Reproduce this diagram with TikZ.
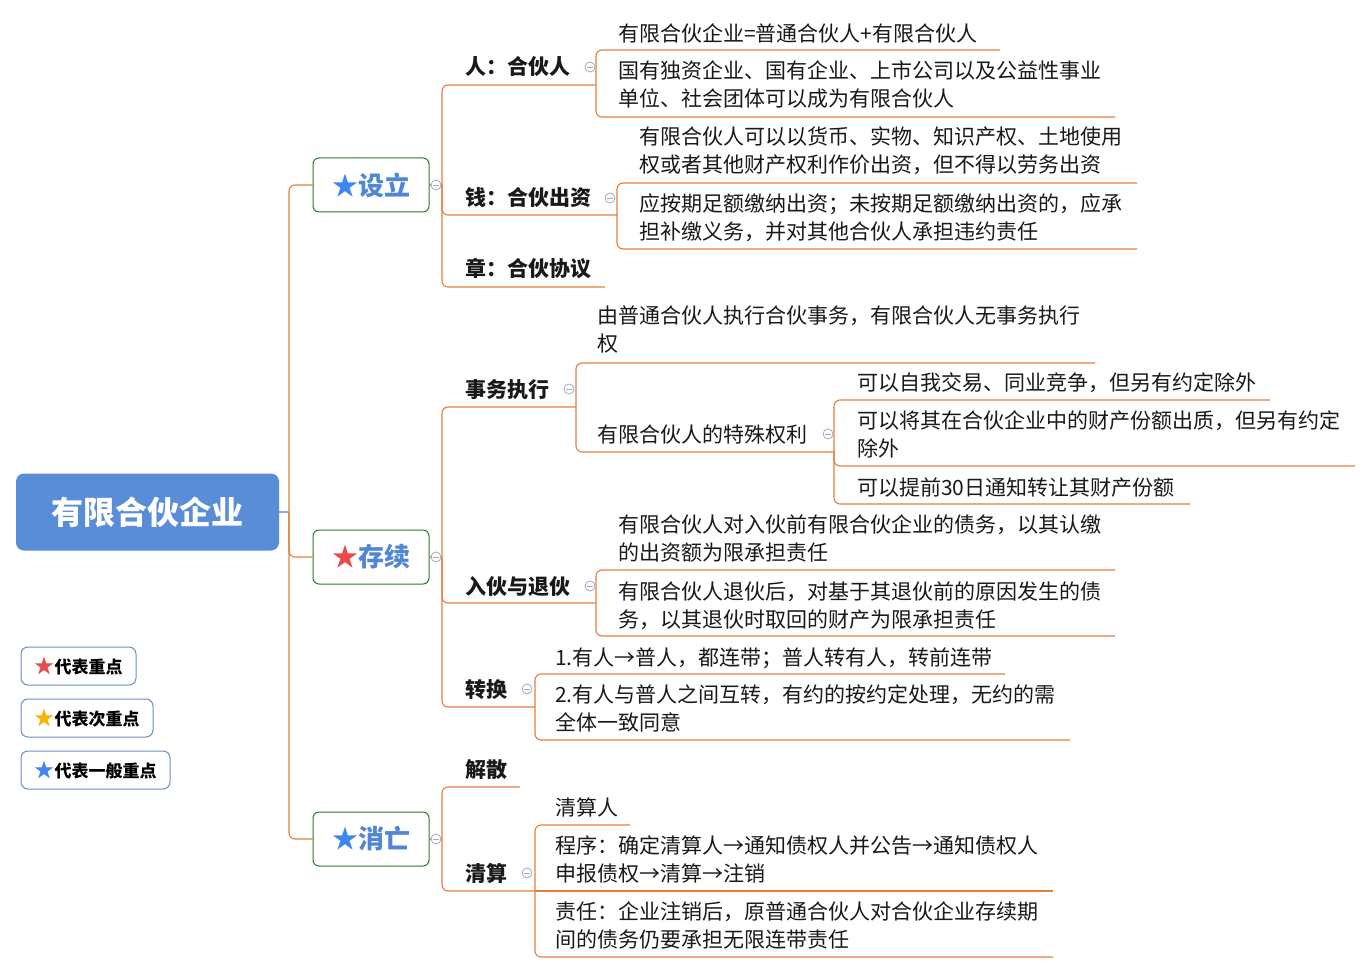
\documentclass[tikz,border=0pt]{standalone}
\usepackage{fontspec}
\setmainfont{Noto Sans CJK SC}
\definecolor{lineor}{RGB}{230,126,60}
\definecolor{boxgreen}{RGB}{42,122,42}
\definecolor{topicblue}{RGB}{80,134,212}
\definecolor{rootblue}{RGB}{90,141,216}
\definecolor{starblue}{RGB}{64,134,240}
\definecolor{starred}{RGB}{234,74,74}
\definecolor{staryel}{RGB}{247,180,0}
\definecolor{legbd}{RGB}{110,140,195}
\definecolor{foldc}{RGB}{160,170,200}
\definecolor{txt}{RGB}{25,25,25}
\begin{document}
\begin{tikzpicture}[x=1pt,y=-1pt,
 br/.style={draw=lineor,line width=1.1pt,rounded corners=6pt},
 tx/.style={anchor=west,inner sep=0pt,text height=18.5pt,text depth=2.5pt,font=\fontsize{21}{28}\selectfont,text=txt},
 tb/.style={tx,font=\fontsize{21}{28}\selectfont\bfseries},
 lone/.style={draw=boxgreen,line width=1pt,rounded corners=6pt,fill=white,minimum width=116pt,minimum height=54pt,inner sep=0pt,font=\fontsize{26}{30}\selectfont\bfseries,text=topicblue},
 leg/.style={draw=legbd,line width=1pt,rounded corners=7pt,fill=white,minimum height=38pt,inner sep=0pt,font=\fontsize{17}{20}\selectfont\bfseries,text=black},
 bigstar/.style={font=\fontsize{19}{20}\selectfont},
 fold/.style={circle,draw=foldc,fill=white,line width=0.8pt,minimum size=10pt,inner sep=0pt,
   path picture={\draw[foldc,line width=0.8pt] ([xshift=-2.6pt]path picture bounding box.center) -- ([xshift=2.6pt]path picture bounding box.center);}}
]
\fill[white] (0,0) rectangle (1370,973);
\useasboundingbox (0,0) rectangle (1370,973);

% root and level 1
\node[fill=rootblue,rounded corners=8pt,minimum width=263pt,minimum height=77pt,inner sep=0pt,
  font=\fontsize{32}{36}\selectfont\bfseries,text=white] (root) at (147.5,512) {有限合伙企业};
\coordinate (j0) at (289,512);
\draw[line width=1.1pt,draw=rootblue!70] (root.east) -- (j0);

\node[lone] (sl) at (371,185) {\textcolor{starblue}{★}设立};
\node[lone] (cx) at (371,557) {\textcolor{starred}{★}存续};
\node[lone] (xw) at (371,839) {\textcolor{starblue}{★}消亡};
\draw[br] (j0) |- (sl.west);
\draw[br] (j0) |- (cx.west);
\draw[br] (j0) |- (xw.west);

\coordinate (jsl) at (442,185);
\coordinate (jcx) at (442,557);
\coordinate (jxw) at (442,839);
\draw[br] (sl.east) -- (jsl);
\draw[br] (cx.east) -- (jcx);
\draw[br] (xw.east) -- (jxw);

% level 2 lines
\coordinate (jr) at (596,85);
\coordinate (jq) at (617,215);
\coordinate (jsw) at (576,407);
\coordinate (jrh) at (596,603);
\coordinate (jzh) at (535,707);
\coordinate (jqs) at (535,891);
\coordinate (jts) at (834,452);
\draw[br] (jsl) |- (jr);
\draw[br] (jsl) |- (jq);
\draw[br] (jsl) |- (605,287);
\draw[br] (jcx) |- (jsw);
\draw[br] (jcx) |- (jrh);
\draw[br] (jcx) |- (jzh);
\draw[br] (jxw) |- (520,787);
\draw[br] (jxw) |- (jqs);

% level 3 lines
\draw[br] (jr) |- (1000,50);
\draw[br] (jr) |- (1115,117);
\draw[br] (jq) |- (1137,183);
\draw[br] (jq) |- (1137,249);
\draw[br] (jsw) |- (1095,363);
\draw[br] (jsw) |- (jts);
\draw[br] (jts) |- (1270,400);
\draw[br] (jts) |- (1355,466);
\draw[br] (jts) |- (1190,504);
\draw[br] (jrh) |- (1115,570);
\draw[br] (jrh) |- (1115,636);
\draw[br] (jzh) |- (1005,674);
\draw[br] (jzh) |- (1070,740);
\draw[br] (jqs) |- (630,825);
\draw[br] (jqs) -- (1053,891);
\draw[br] (jqs) |- (1053,957);

% level 2 texts
\node[tb] (t1) at (465,67) {人：合伙人};
\node[tb] (t2) at (465,198) {钱：合伙出资};
\node[tb] (t3) at (465,269) {章：合伙协议};
\node[tb] (t4) at (465,389) {事务执行};
\node[tb] (t5) at (465,586) {入伙与退伙};
\node[tb] (t6) at (465,689) {转换};
\node[tb] (t7) at (465,769) {解散};
\node[tb] (t8) at (465,873) {清算};

% level 3 texts
\node[tx] (a1) at (618,34) {有限合伙企业=普通合伙人+有限合伙人};
\node[tx] (a2) at (618,71) {国有独资企业、国有企业、上市公司以及公益性事业};
\node[tx] (a2b) at (618,99) {单位、社会团体可以成为有限合伙人};
\node[tx] (b1) at (639,137) {有限合伙人可以以货币、实物、知识产权、土地使用};
\node[tx] (b1b) at (639,165) {权或者其他财产权利作价出资，但不得以劳务出资};
\node[tx] (b2) at (639,204) {应按期足额缴纳出资；未按期足额缴纳出资的，应承};
\node[tx] (b2b) at (639,232) {担补缴义务，并对其他合伙人承担违约责任};
\node[tx] (c1) at (597,316) {由普通合伙人执行合伙事务，有限合伙人无事务执行};
\node[tx] (c1b) at (597,344) {权};
\node[tx] (c2) at (597,434) {有限合伙人的特殊权利};
\node[tx] (d1) at (857,382) {可以自我交易、同业竞争，但另有约定除外};
\node[tx] (d2) at (857,420) {可以将其在合伙企业中的财产份额出质，但另有约定};
\node[tx] (d2b) at (857,448) {除外};
\node[tx] (d3) at (857,487) {可以提前30日通知转让其财产份额};
\node[tx] (e1) at (618,524) {有限合伙人对入伙前有限合伙企业的债务，以其认缴};
\node[tx] (e1b) at (618,552) {的出资额为限承担责任};
\node[tx] (e2) at (618,591) {有限合伙人退伙后，对基于其退伙前的原因发生的债};
\node[tx] (e2b) at (618,619) {务，以其退伙时取回的财产为限承担责任};
\node[tx] (f1) at (555,657) {1.有人→普人，都连带；普人转有人，转前连带};
\node[tx] (f2) at (555,694) {2.有人与普人之间互转，有约的按约定处理，无约的需};
\node[tx] (f2b) at (555,722) {全体一致同意};
\node[tx] (g1) at (555,807) {清算人};
\node[tx] (g2) at (555,845) {程序：确定清算人→通知债权人并公告→通知债权人};
\node[tx] (g2b) at (555,873) {申报债权→清算→注销};
\node[tx] (g3) at (555,911) {责任：企业注销后，原普通合伙人对合伙企业存续期};
\node[tx] (g3b) at (555,939) {间的债务仍要承担无限连带责任};

% fold markers
\node[fold] (f-sl) at (436,185) {};
\node[fold] (f-cx) at (436,557) {};
\node[fold] (f-xw) at (436,839) {};
\node[fold] (f-t1) at (590,67) {};
\node[fold] (f-t2) at (610,198) {};
\node[fold] (f-t4) at (569,389) {};
\node[fold] (f-c2) at (828,434) {};
\node[fold] (f-t5) at (590,586) {};
\node[fold] (f-t6) at (527,689) {};
\node[fold] (f-t8) at (527,873) {};

% legend
\node[leg,minimum width=115pt] (lg1) at (78.5,666) {\textcolor{starred}{\fontsize{20}{20}\selectfont★}代表重点};
\node[leg,minimum width=132pt] (lg2) at (87,718) {\textcolor{staryel}{\fontsize{20}{20}\selectfont★}代表次重点};
\node[leg,minimum width=149pt] (lg3) at (95.5,770) {\textcolor{starblue}{\fontsize{20}{20}\selectfont★}代表一般重点};
\end{tikzpicture}
\end{document}
